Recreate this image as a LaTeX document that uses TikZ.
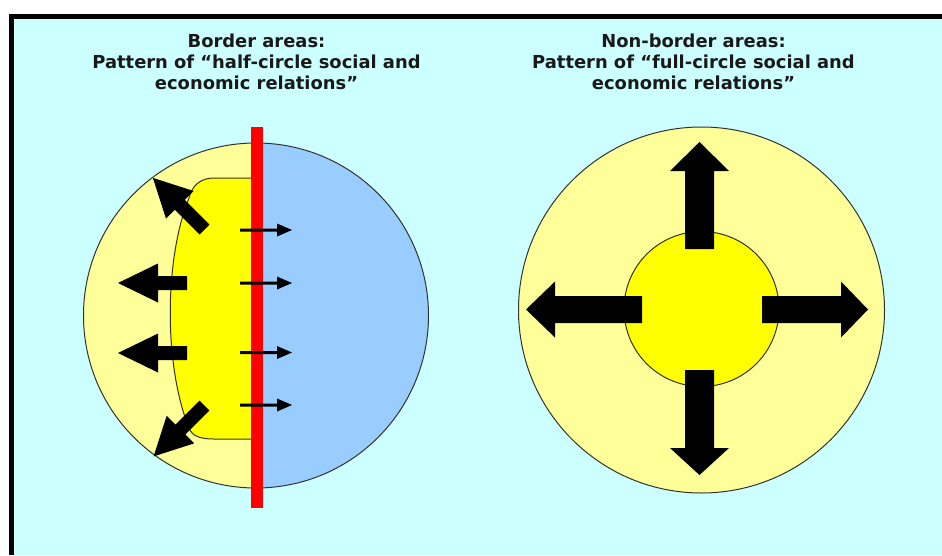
\documentclass[tikz,border=0pt]{standalone}
\usepackage{fontspec}
\setmainfont{DejaVu Sans}
\definecolor{bgcyan}{HTML}{CCFFFF}
\definecolor{paleyel}{HTML}{FFFF99}
\definecolor{coreyel}{HTML}{FFFF00}
\definecolor{sideblue}{HTML}{99CCFF}
\definecolor{borderred}{HTML}{FF0000}
\definecolor{outline}{HTML}{333333}
\newcommand\blkarrow[6]{%
  \fill[black,shift={(#1)},rotate=#2] (0,-#6) -- ({#3-#4},-#6) -- ({#3-#4},-#5) -- (#3,0) -- ({#3-#4},#5) -- ({#3-#4},#6) -- (0,#6) -- cycle;}
\begin{document}
\begin{tikzpicture}[x=1pt,y=-1pt,
  titletext/.style={font=\bfseries\fontsize{17.9}{21}\selectfont, anchor=base, inner sep=0pt, text=black!90},
  ring/.style={draw=outline, line width=1pt}]
\useasboundingbox (0,0) rectangle (942,555);
% frame
\fill[white] (0,0) rectangle (942,555);
\fill[bgcyan] (11.5,16.5) rectangle (942,555);
\draw[line width=5pt] (11.5,555) -- (11.5,16.5) -- (942,16.5);
% titles
\node[titletext] (lt1) at (256.5,47) {Border areas:};
\node[titletext] (lt2) at (256.5,68) {Pattern of “half-circle social and};
\node[titletext] (lt3) at (256.5,89) {economic relations”};
\node[titletext] (rt1) at (693.5,47) {Non-border areas:};
\node[titletext] (rt2) at (693.5,68) {Pattern of “full-circle social and};
\node[titletext] (rt3) at (693.5,89) {economic relations”};
% ---- left figure
\fill[paleyel] (256,315.5) circle[radius=172.5pt];
\begin{scope}
  \clip (257,0) rectangle (942,555);
  \fill[sideblue] (256,315.5) circle[radius=172.5pt];
\end{scope}
\draw[ring] (256,315.5) circle[radius=172.5pt];
\filldraw[fill=coreyel, draw=outline, line width=1pt]
  (252,178) -- (214,178) .. controls (200,178) and (192,186) .. (189,198)
  .. controls (164,260) and (164,366) .. (189,428)
  .. controls (192,436) and (200,439) .. (214,439) -- (252,439) -- cycle;
\fill[borderred] (251,127) rectangle (263,508);
\blkarrow{204.5,229.5}{135}{73}{38}{19.5}{7}
\blkarrow{187,283}{180}{69}{40}{19.5}{7}
\blkarrow{187,353}{180}{69}{40}{19.5}{7}
\blkarrow{204.5,405.5}{225}{72}{38}{19.5}{7}
\blkarrow{240,230}{0}{52}{15}{6.5}{1.5}
\blkarrow{240,283}{0}{52}{15}{6.5}{1.5}
\blkarrow{240,352.5}{0}{52}{15}{6.5}{1.5}
\blkarrow{240,405}{0}{52}{15}{6.5}{1.5}
% ---- right figure
\filldraw[fill=paleyel, ring] (701.5,310) circle[radius=183pt];
\filldraw[fill=coreyel, ring] (701.5,309) circle[radius=77.5pt];
\blkarrow{699.5,249}{90}{107}{29}{29.5}{14.5}
\blkarrow{642,309.5}{180}{116}{29}{28}{13.5}
\blkarrow{762,309.5}{0}{106}{27}{28}{13.5}
\blkarrow{699.5,370}{270}{105}{27}{29.5}{14.5}
\end{tikzpicture}
\end{document}
